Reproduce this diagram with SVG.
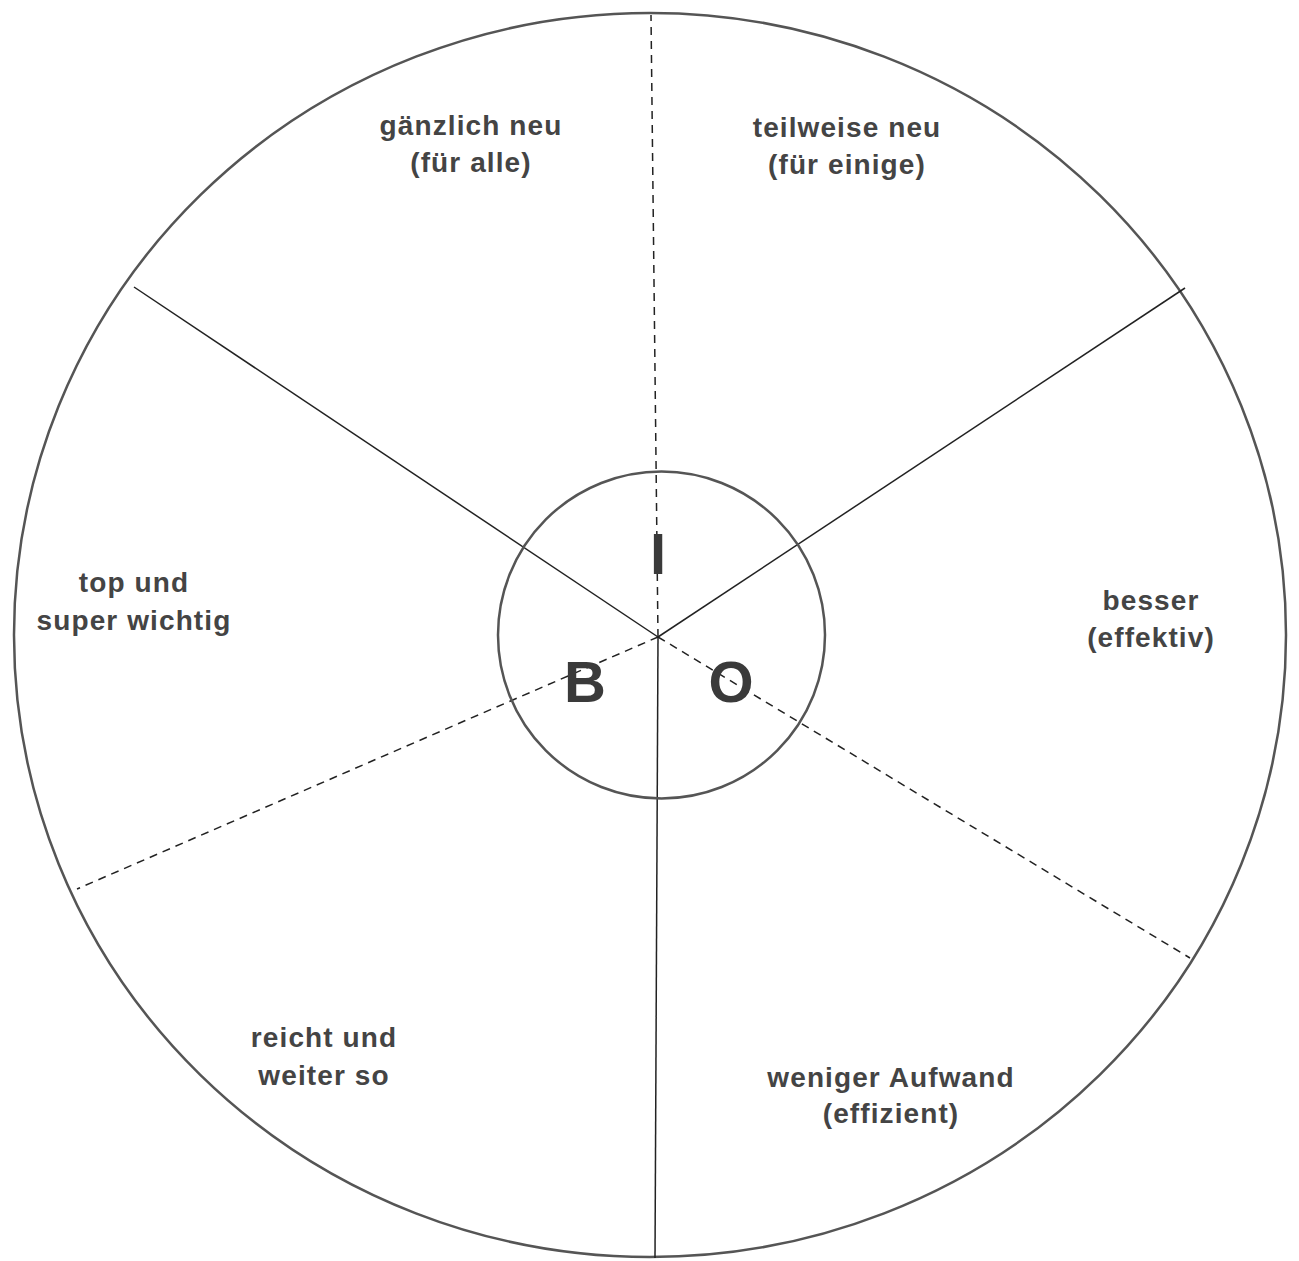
<svg xmlns="http://www.w3.org/2000/svg" width="1299" height="1261" viewBox="0 0 1299 1261">
<style>
.ring{fill:none;stroke:#555;stroke-width:2.5}
.solid{fill:none;stroke:#222;stroke-width:1.5}
.dash{fill:none;stroke:#222;stroke-width:1.5;stroke-dasharray:8 6}
.lbl{font-family:"Liberation Sans",Arial,sans-serif;font-weight:bold;font-size:28px;fill:#444;text-anchor:middle;letter-spacing:1.1px}
.big{font-family:"Liberation Sans",Arial,sans-serif;font-weight:bold;font-size:58px;fill:#3a3a3a;text-anchor:middle}
</style>
<rect width="1299" height="1261" fill="#fff"/>
<g id="outer"><ellipse class="ring" cx="650" cy="635" rx="636" ry="622"/></g>
<g id="connectors">
<line class="dash" x1="658" y1="637" x2="651" y2="15"/>
<line class="solid" x1="658" y1="637" x2="134" y2="287"/>
<line class="solid" x1="658" y1="637" x2="1185" y2="288"/>
<line class="dash" x1="658" y1="637" x2="77" y2="889"/>
<line class="dash" x1="658" y1="637" x2="1190" y2="958"/>
<line class="solid" x1="658" y1="637" x2="655" y2="1258"/>
</g>
<g id="inner"><circle class="ring" cx="661.5" cy="635" r="163.5"/></g>
<g id="letters">
<text class="big" x="658" y="574">I</text>
<text class="big" x="585" y="702">B</text>
<text class="big" x="731" y="702">O</text>
</g>
<g id="seg-gaenzlich"><text class="lbl" x="471" y="135">gänzlich neu</text><text class="lbl" x="471" y="172">(für alle)</text></g>
<g id="seg-teilweise"><text class="lbl" x="847" y="137">teilweise neu</text><text class="lbl" x="847" y="174">(für einige)</text></g>
<g id="seg-top"><text class="lbl" x="134" y="592">top und</text><text class="lbl" x="134" y="630">super wichtig</text></g>
<g id="seg-besser"><text class="lbl" x="1151" y="610">besser</text><text class="lbl" x="1151" y="647">(effektiv)</text></g>
<g id="seg-reicht"><text class="lbl" x="324" y="1047">reicht und</text><text class="lbl" x="324" y="1085">weiter so</text></g>
<g id="seg-weniger"><text class="lbl" x="891" y="1087">weniger Aufwand</text><text class="lbl" x="891" y="1123">(effizient)</text></g>
</svg>
